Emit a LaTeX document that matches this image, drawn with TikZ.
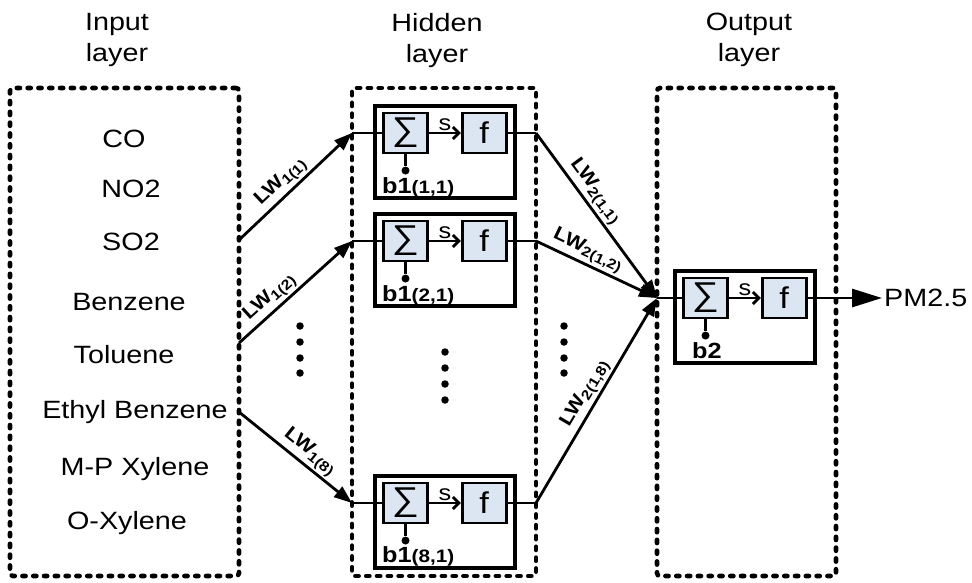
\documentclass[tikz,border=0pt]{standalone}
\usepackage{fontspec}
\setmainfont{Liberation Sans}[FakeStretch=1.15]
\usetikzlibrary{positioning,arrows.meta}

\definecolor{cellblue}{HTML}{DCE6F2}
\newcommand{\lw}[2]{LW\raisebox{-0.35ex}{\fontsize{14}{14}\selectfont #1(#2)}}
\newcommand{\bsub}[1]{{\fontsize{18}{18}\selectfont #1}}

\begin{document}
\begin{tikzpicture}[
		x=1pt, y=-1pt,
		every node/.style={font=\fontsize{25}{31}\selectfont},
		layerbox/.style={draw, line width=4.6pt, dash pattern=on 3.2pt off 7.6pt,
			line cap=round, rounded corners=3pt, minimum width=#1,
			minimum height=488pt, inner sep=0pt},
		title/.style={align=center, anchor=north, inner sep=0pt},
		feat/.style={anchor=base, inner sep=0pt},
		cell/.style={draw, line width=3.2pt, minimum width=140pt,
			minimum height=92pt, inner sep=0pt},
		op/.style={draw, line width=2.7pt, fill=cellblue, minimum width=44pt,
			minimum height=40pt, inner sep=0pt},
		sumop/.style={op, font=\fontsize{33}{33}\selectfont},
		actop/.style={op, font=\fontsize{30}{30}\selectfont},
		wire/.style={line width=2.8pt},
		feed/.style={wire, -{Triangle[length=18pt,width=13pt]}},
		sumarrow/.style={wire, -{Straight Barb[length=6pt,width=12pt]}},
		slbl/.style={above, inner sep=1pt, font=\fontsize{22}{22}\selectfont},
		biasdot/.style={circle, fill, inner sep=0pt, minimum size=8pt},
		biaslbl/.style={anchor=base west, inner sep=0pt,
			font=\fontsize{22}{22}\selectfont\bfseries},
		wlbl/.style={sloped, above, inner sep=2pt,
			font=\fontsize{19}{22}\selectfont\bfseries},
		vdot/.style={circle, fill, inner sep=0pt, minimum size=7.5pt},
	]
		\useasboundingbox (0,0) rectangle (972,582);

		% layer frames and titles
		\node[layerbox=229pt] (inbox) at (124.5,332) {};
		\node[layerbox=184pt] (hidbox) at (444,332) {};
		\node[layerbox=179pt] (outbox) at (746.5,332) {};
		\node[title] (intitle) at (117,13) {Input\\layer};
		\node[title] (hidtitle) at (437,13) {Hidden\\layer};
		\node[title] (outtitle) at (749,13) {Output\\layer};

		% input variables
		\node[feat] (co) at (124,147) {CO};
		\node[feat] (no2) at (131,197) {NO2};
		\node[feat] (so2) at (131,250) {SO2};
		\node[feat] (benz) at (129,310) {Benzene};
		\node[feat] (tol) at (124,363) {Toluene};
		\node[feat] (ethb) at (135,418) {Ethyl Benzene};
		\node[feat] (mpx) at (135,475) {M-P Xylene};
		\node[feat] (ox) at (127,529) {O-Xylene};

		% hidden neuron 1
		\node[cell] (c1) at (445,152) {};
		\node[sumop] (s1) at (405.5,133) {∑};
		\node[actop, right=32pt of s1] (f1) {f};
		\node[biasdot, below=12pt of s1] (d1) {};
		\node[biaslbl] (b1) at (382,193) {b1\bsub{(1,1)}};
		\draw[wire] (s1) -- (d1);
		\draw[sumarrow] (s1) -- (f1) node[slbl, midway] {s};

		% hidden neuron 2
		\node[cell] (c2) at (445,260) {};
		\node[sumop] (s2) at (405.5,241) {∑};
		\node[actop, right=32pt of s2] (f2) {f};
		\node[biasdot, below=12pt of s2] (d2) {};
		\node[biaslbl] (b2) at (382,301) {b1\bsub{(2,1)}};
		\draw[wire] (s2) -- (d2);
		\draw[sumarrow] (s2) -- (f2) node[slbl, midway] {s};

		% hidden neuron 8
		\node[cell] (c8) at (445,522) {};
		\node[sumop] (s8) at (405.5,503) {∑};
		\node[actop, right=32pt of s8] (f8) {f};
		\node[biasdot, below=12pt of s8] (d8) {};
		\node[biaslbl] (b8) at (382,562) {b1\bsub{(8,1)}};
		\draw[wire] (s8) -- (d8);
		\draw[sumarrow] (s8) -- (f8) node[slbl, midway] {s};

		% output neuron
		\node[cell] (co1) at (745,317) {};
		\node[sumop] (so) at (705.5,298) {∑};
		\node[actop, right=32pt of so] (fo) {f};
		\node[biasdot, below=12pt of so] (dout) {};
		\node[biaslbl] (bout) at (692,358) {b2};
		\draw[wire] (so) -- (dout);
		\draw[sumarrow] (so) -- (fo) node[slbl, midway] {s};

		% ellipsis dots
		\foreach \y in {326,342,358,373} {
			\node[vdot] (ldot\y) at (300,\y) {};
			\node[vdot] (rdot\y) at (564,\y) {};
		}
		\foreach \y in {352,368,384,400}
			\node[vdot] (mdot\y) at (445,\y) {};

		% input -> hidden
		\coordinate (src1) at (239,240);
		\coordinate (src2) at (239,343);
		\coordinate (src8) at (239,412);
		\coordinate (h1) at (352,133);
		\coordinate (h2) at (352,241);
		\coordinate (h8) at (352,503);
		\draw[feed] (src1) -- (h1) node[wlbl, pos=0.45] {\lw{1}{1}};
		\draw[feed] (src2) -- (h2) node[wlbl, pos=0.35] {\lw{1}{2}};
		\draw[feed] (src8) -- (h8) node[wlbl, pos=0.55] {\lw{1}{8}};
		\draw[wire] (h1) -- (s1);
		\draw[wire] (h2) -- (s2);
		\draw[wire] (h8) -- (s8);

		% hidden -> output
		\coordinate (g1) at (536,133);
		\coordinate (g2) at (536,241);
		\coordinate (g8) at (536,503);
		\coordinate (oin) at (657,298);
		\draw[wire] (f1) -- (g1);
		\draw[wire] (f2) -- (g2);
		\draw[wire] (f8) -- (g8);
		\draw[feed] (g1) -- (oin) node[wlbl, pos=0.4] {\lw{2}{1,1}};
		\draw[feed] (g2) -- (oin) node[wlbl, pos=0.38] {\lw{2}{1,2}};
		\draw[feed] (g8) -- (oin) node[wlbl, pos=0.5] {\lw{2}{1,8}};
		\draw[wire] (oin) -- (so);

		% network output
		\coordinate (yout) at (882,298);
		\draw[wire, -{Triangle[length=30pt,width=18pt]}] (fo) -- (yout);
		\node[anchor=west, inner sep=2pt] (pm) at (yout) {PM2.5};
	\end{tikzpicture}
\end{document}
